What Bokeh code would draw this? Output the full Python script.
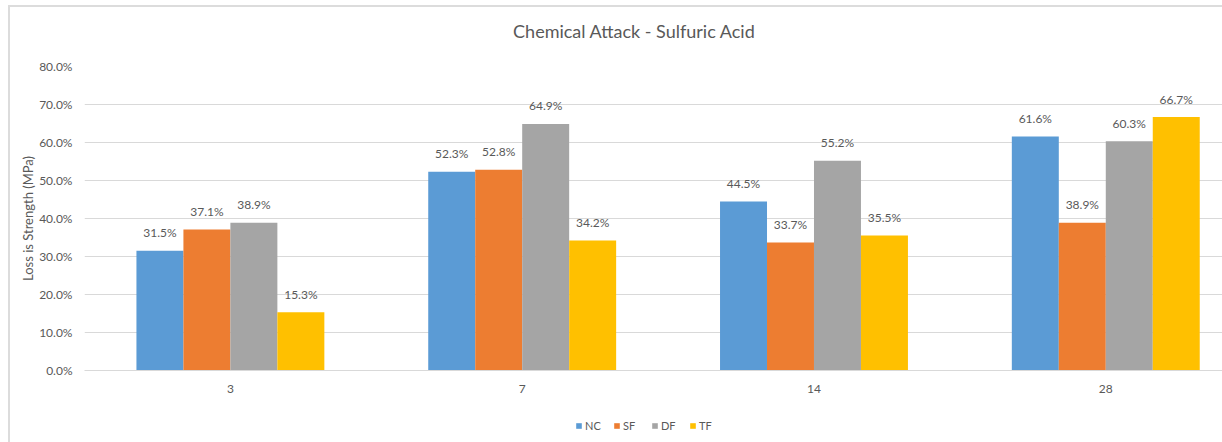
from bokeh.plotting import figure
from bokeh.layouts import column
from bokeh.models import (ColumnDataSource, FixedTicker, NumeralTickFormatter,
                          Label, Legend, LegendItem, Range1d)
from bokeh.core.properties import value
from bokeh.embed import file_html
from bokeh.resources import INLINE

# Exposure time (days) and loss in strength per mix
days = ["3", "7", "14", "28"]
nc = [0.315, 0.523, 0.445, 0.616]
sf = [0.371, 0.528, 0.337, 0.389]
df = [0.389, 0.649, 0.552, 0.603]
tf = [0.153, 0.342, 0.355, 0.667]

series_names = ["NC", "SF", "DF", "TF"]
series_values = [nc, sf, df, tf]
colors = ["#5B9BD5", "#ED7D31", "#A5A5A5", "#FFC000"]
chart_title = "Chemical Attack - Sulfuric Acid"

FONT = "Lato"
TEXT_COLOR = "#595959"
GRID_COLOR = "#d9d9d9"
WIDTH = 1212
LEFT = 74
FRAME_W = WIDTH - LEFT

bar_w = 0.161
offsets = [-1.5 * bar_w, -0.5 * bar_w, 0.5 * bar_w, 1.5 * bar_w]

# Title band (frame aligned with the chart's frame, x in pixels)
head = figure(width=WIDTH, height=49, output_backend="svg",
              toolbar_location=None, x_range=Range1d(0, FRAME_W),
              y_range=Range1d(0, 49), min_border_left=LEFT,
              min_border_right=0, min_border_top=0, min_border_bottom=0)
head.axis.visible = False
head.grid.visible = False
head.outline_line_color = None
head.add_layout(Label(x=550, y=26, text=chart_title, text_align="center",
                      text_baseline="middle", text_font=FONT,
                      text_font_size="18px", text_color=TEXT_COLOR))

# Main chart
p = figure(width=WIDTH, height=349, output_backend="svg", toolbar_location=None,
           x_range=Range1d(-0.5, 3.40), y_range=Range1d(0, 0.8),
           min_border_left=LEFT, min_border_right=0, min_border_top=10,
           min_border_bottom=35)

# Legend band underneath the chart
leg = figure(width=WIDTH, height=37, output_backend="svg", toolbar_location=None,
             x_range=Range1d(0, 1), y_range=Range1d(5, 6),
             min_border_left=LEFT, min_border_right=0, min_border_top=0,
             min_border_bottom=0)
leg.axis.visible = False
leg.grid.visible = False
leg.outline_line_color = None

items = []
xs = list(range(len(days)))
for name, vals, col, off in zip(series_names, series_values, colors, offsets):
    src = ColumnDataSource(dict(
        x=[x + off for x in xs], top=vals,
        label=[f"{v * 100:.1f}%" for v in vals]))
    p.vbar(x="x", top="top", width=bar_w, source=src, fill_color=col,
           line_color=None)
    p.text(x="x", y="top", text="label", source=src, text_align="center",
           text_baseline="middle", y_offset=-18, text_font=value(FONT),
           text_font_size="12px", text_color=TEXT_COLOR)
    # same series in the legend band (outside its visible range)
    r = leg.vbar(x="x", top="top", width=bar_w, source=src, fill_color=col,
                 line_color=None)
    items.append(LegendItem(label=name, renderers=[r]))

# Axes
p.xaxis.ticker = FixedTicker(ticks=xs)
p.xaxis.major_label_overrides = {i: d for i, d in enumerate(days)}
p.xaxis.major_tick_line_color = None
p.xaxis.major_tick_out = 0
p.xaxis.minor_tick_line_color = None
p.xaxis.axis_line_color = GRID_COLOR
p.xaxis.major_label_standoff = 14
p.xaxis.major_label_text_font = FONT
p.xaxis.major_label_text_font_size = "12px"
p.xaxis.major_label_text_color = TEXT_COLOR

p.yaxis.ticker = FixedTicker(ticks=[i / 10 for i in range(9)])
p.yaxis.formatter = NumeralTickFormatter(format="0.0%")
p.yaxis.axis_line_color = None
p.yaxis.major_tick_line_color = None
p.yaxis.major_tick_out = 0
p.yaxis.minor_tick_line_color = None
p.yaxis.major_label_standoff = 12
p.yaxis.major_label_text_font = FONT
p.yaxis.major_label_text_font_size = "12px"
p.yaxis.major_label_text_color = TEXT_COLOR
p.yaxis.axis_label = "Loss is Strength (MPa)"
p.yaxis.axis_label_text_font = FONT
p.yaxis.axis_label_text_font_size = "13px"
p.yaxis.axis_label_text_font_style = "normal"
p.yaxis.axis_label_text_color = TEXT_COLOR
p.yaxis.axis_label_standoff = 0

p.xgrid.grid_line_color = None
p.ygrid.grid_line_color = GRID_COLOR
p.ygrid.grid_line_width = 1
p.outline_line_color = None

legend = Legend(items=items, orientation="horizontal", location=(491, 10),
                glyph_width=7, glyph_height=7, label_text_font=FONT,
                label_text_font_size="11px", label_text_color=TEXT_COLOR,
                spacing=8, label_standoff=3, padding=2, margin=0,
                border_line_color=None, background_fill_alpha=0)
leg.add_layout(legend, "center")

page = column(head, p, leg, spacing=0, margin=(5, 0, 0, 8),
              styles={"border-left": "2px solid #dcdcdc",
                      "border-top": "2px solid #dcdcdc"})

open("out.html", "w").write(file_html(page, INLINE))
